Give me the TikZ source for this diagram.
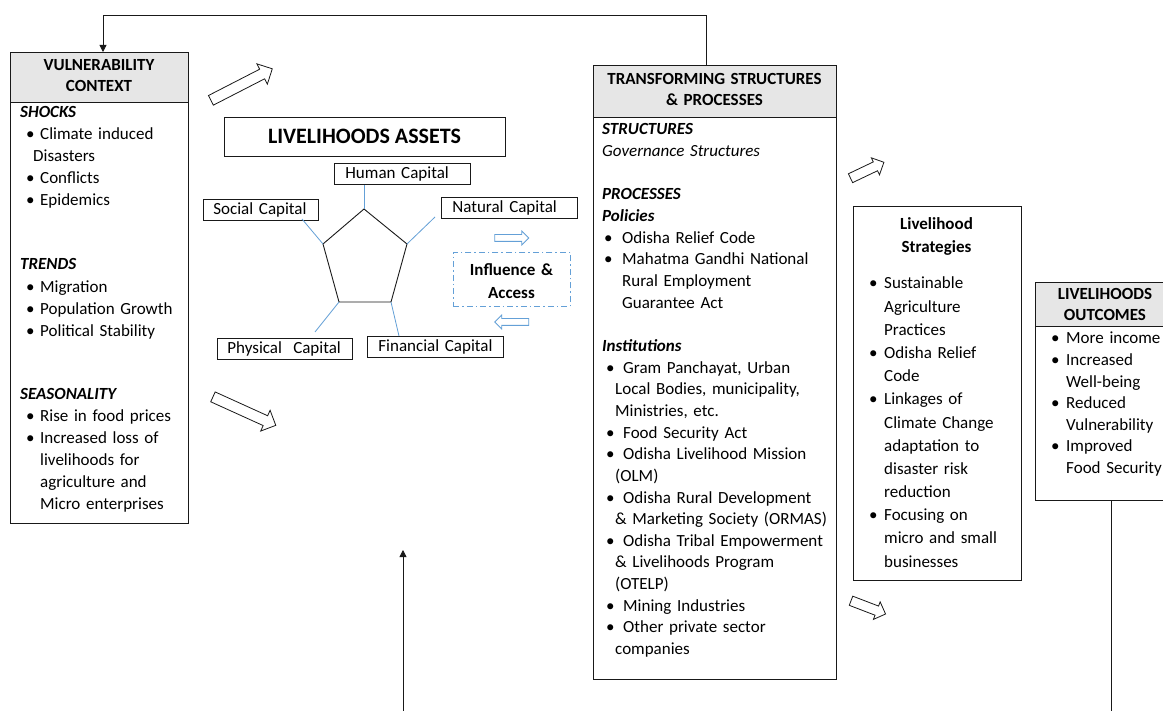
\documentclass[tikz,border=0pt]{standalone}
\usepackage{fontspec}
\setmainfont{Carlito}
\usetikzlibrary{shapes.arrows,arrows.meta}
\definecolor{hdr}{RGB}{230,230,230}
\definecolor{lblue}{RGB}{100,160,215}
\definecolor{ink}{RGB}{25,25,25}
\newcommand\bi[3]{\hspace*{#1pt}\makebox[#2pt][l]{\textbullet}#3}
\newcommand\fsz[1]{\fontsize{17pt}{#1pt}\selectfont}
\newcommand\bit[1]{\textbf{\textit{#1}}}
\begin{document}
\begin{tikzpicture}[x=1pt,y=-1pt,
  box/.style={draw=ink, line width=0.8pt, anchor=north west, inner sep=0pt},
  hdrbox/.style={box, fill=hdr},
  txt/.style={anchor=base west, inner sep=0pt, text width=250pt, align=left},
  ctxt/.style={anchor=base, inner sep=0pt, text width=240pt, align=center},
  capbox/.style={draw=ink, line width=0.8pt, anchor=north west, inner ysep=0pt, inner xsep=11pt, minimum height=21pt, font=\fsz{20}},
  harrow/.style={single arrow, draw=ink, fill=white, line width=0.8pt, inner xsep=0pt, inner ysep=5pt, single arrow head extend=6pt, single arrow tip angle=90},
  barrow/.style={single arrow, draw=lblue, fill=white, line width=0.8pt, inner xsep=0pt, inner ysep=3pt, single arrow head extend=3.5pt, minimum height=34pt},
  blue/.style={draw=lblue, line width=0.8pt},
  arr/.style={draw=ink, line width=0.8pt, -{Triangle[length=7pt,width=7pt]}}
]
\clip (0,0) rectangle (1163,711);
\fill[white] (0,0) rectangle (1163,711);

% ---------- Vulnerability context ----------
\node[box, minimum width=178pt, minimum height=471pt] (vc) at (10,52) {};
\node[hdrbox, minimum width=178pt, minimum height=50pt] (vch) at (10,52) {};
\node[ctxt, text width=170pt, font=\bfseries\fsz{21}] (vct) at (99,70.5) {VULNERABILITY\\CONTEXT};
\node[txt, font=\fsz{22}] (shocks) at (20,118) {\bit{SHOCKS}\\
\bi{6}{14}{Climate induced}\\
\hspace*{13pt}Disasters\\
\bi{6}{14}{Conflicts}\\
\bi{6}{14}{Epidemics}};
\node[txt, font=\fsz{22.3}] (trends) at (20,270) {\bit{TRENDS}\\
\bi{6}{14}{Migration}\\
\bi{6}{14}{Population Growth}\\
\bi{6}{14}{Political Stability}};
\node[txt, font=\fsz{22}] (season) at (20,400) {\bit{SEASONALITY}\\
\bi{6}{14}{Rise in food prices}\\
\bi{6}{14}{Increased loss of}\\
\hspace*{20pt}livelihoods for\\
\hspace*{20pt}agriculture and\\
\hspace*{20pt}Micro enterprises};

% ---------- Livelihood assets ----------
\node[draw=ink, line width=0.8pt, minimum width=281pt, minimum height=39pt, inner sep=0pt,
  font=\bfseries\fontsize{22pt}{24pt}\selectfont] (la) at (364.5,136.5) {LIVELIHOODS ASSETS};
\node[capbox, minimum width=136pt, text width=114pt] (human) at (334,163) {\mbox{Human Capital}};
\node[capbox, inner xsep=10pt, minimum width=115pt, text width=95pt] (social) at (203,199) {\mbox{Social Capital}};
\node[capbox, minimum width=136pt, text width=114pt] (natural) at (441,197) {\mbox{Natural Capital}};
\node[capbox, inner xsep=10pt, minimum width=135pt, text width=115pt] (physical) at (217,338) {\mbox{Physical~ Capital}};
\node[capbox, minimum width=136pt, text width=114pt] (financial) at (367,336) {\mbox{Financial Capital}};

\coordinate (pT) at (364,209);
\coordinate (pL) at (323,244);
\coordinate (pR) at (407,244);
\coordinate (pBL) at (339,302);
\coordinate (pBR) at (391,302);
\draw[draw=ink, line width=0.9pt] (pT) -- (pR) -- (pBR) -- (pBL) -- (pL) -- cycle;
\coordinate (eS) at (302,219);
\coordinate (eN) at (435,217);
\coordinate (eP) at (315,332);
\coordinate (eF) at (399,336);
\draw[blue] (pT) -- (human.south -| pT);
\draw[blue] (pL) -- (eS);
\draw[blue] (pR) -- (eN);
\draw[blue] (pBL) -- (eP);
\draw[blue] (pBR) -- (eF);

% influence & access
\node[draw=lblue, line width=0.8pt, dash pattern=on 6pt off 3pt on 1.5pt off 3pt,
  minimum width=117pt, minimum height=54pt, anchor=north west, inner sep=0pt] (inf) at (453,252) {};
\node[ctxt, text width=110pt, font=\bfseries\fsz{23}] (inft) at (511.5,275.5) {Influence \&\\Access};
\node[barrow] (ba1) at (510,238) {};
\node[barrow, rotate=180] (ba2) at (513.5,322) {};

% hollow arrows
\node[harrow, minimum height=69pt, rotate=27.2] (ha1) at (239.2,85.8) {};
\node[harrow, minimum height=69pt, rotate=-24.4] (ha2) at (241.9,410) {};
\node[harrow, minimum height=37pt, inner ysep=4.5pt, single arrow head extend=4.5pt, rotate=25.5] (ha3) at (865,171.3) {};
\node[harrow, minimum height=37pt, inner ysep=4.5pt, single arrow head extend=4.5pt, rotate=-21] (ha4) at (866,606.5) {};

% ---------- Transforming structures ----------
\node[box, minimum width=243pt, minimum height=614pt] (ts) at (593,65) {};
\node[hdrbox, minimum width=243pt, minimum height=52pt] (tsh) at (593,65) {};
\node[ctxt, font=\bfseries\fsz{21}] (tst) at (714.5,85) {TRANSFORMING STRUCTURES\\\& PROCESSES};
\node[txt, font=\fsz{21.65}] (tsb) at (602,135) {\bit{STRUCTURES}\\
\textit{Governance Structures}\\
\mbox{}\\
\bit{PROCESSES}\\
\bit{Policies}\\
\bi{2}{18}{Odisha Relief Code}\\
\bi{2}{18}{Mahatma Gandhi National}\\
\hspace*{20pt}Rural Employment\\
\hspace*{20pt}Guarantee Act\\
\mbox{}\\
\bit{Institutions}\\
\bi{4}{17}{Gram Panchayat, Urban}\\
\hspace*{13pt}Local Bodies, municipality,\\
\hspace*{13pt}Ministries, etc.\\
\bi{4}{17}{Food Security Act}\\
\bi{4}{17}{Odisha Livelihood Mission}\\
\hspace*{13pt}(OLM)\\
\bi{4}{17}{Odisha Rural Development}\\
\hspace*{13pt}\& Marketing Society (ORMAS)\\
\bi{4}{17}{Odisha Tribal Empowerment}\\
\hspace*{13pt}\& Livelihoods Program\\
\hspace*{13pt}(OTELP)\\
\bi{4}{17}{Mining Industries}\\
\bi{4}{17}{Other private sector}\\
\hspace*{13pt}companies};

% ---------- Livelihood strategies ----------
\node[box, minimum width=168.5pt, minimum height=374pt] (ls) at (852.5,206) {};
\node[ctxt, text width=160pt, font=\bfseries\fsz{22.5}] (lst) at (936.5,230) {Livelihood\\Strategies};
\node[txt, font=\fsz{23.17}] (lsb) at (862,289) {\bi{7}{15}{Sustainable}\\
\hspace*{22pt}Agriculture\\
\hspace*{22pt}Practices\\
\bi{7}{15}{Odisha Relief}\\
\hspace*{22pt}Code\\
\bi{7}{15}{Linkages of}\\
\hspace*{22pt}Climate Change\\
\hspace*{22pt}adaptation to\\
\hspace*{22pt}disaster risk\\
\hspace*{22pt}reduction\\
\bi{7}{15}{Focusing on}\\
\hspace*{22pt}micro and small\\
\hspace*{22pt}businesses};

% ---------- Livelihood outcomes ----------
\node[box, minimum width=140pt, minimum height=218pt] (lo) at (1035,282) {};
\node[hdrbox, minimum width=140pt, minimum height=44pt] (loh) at (1035,282) {};
\node[ctxt, text width=130pt, font=\bfseries\fsz{21}] (lot) at (1105,300) {LIVELIHOODS\\OUTCOMES};
\node[txt, font=\fsz{21.6}] (lob) at (1045,344) {\bi{6}{15}{More income}\\
\bi{6}{15}{Increased}\\
\hspace*{21pt}Well-being\\
\bi{6}{15}{Reduced}\\
\hspace*{21pt}Vulnerability\\
\bi{6}{15}{Improved}\\
\hspace*{21pt}Food Security};

% ---------- connectors ----------
\coordinate (fbR) at (706,15);
\coordinate (fbL) at (103,15);
\draw[arr] (ts.north -| fbR) -- (fbR) -- (fbL) -- (vc.north -| fbL);
\coordinate (botA) at (403,711);
\coordinate (botB) at (403,550);
\draw[arr] (botA) -- (botB);
\coordinate (loEnd) at (1111,711);
\draw[draw=ink, line width=0.8pt] (lo.south -| loEnd) -- (loEnd);
\end{tikzpicture}
\end{document}
